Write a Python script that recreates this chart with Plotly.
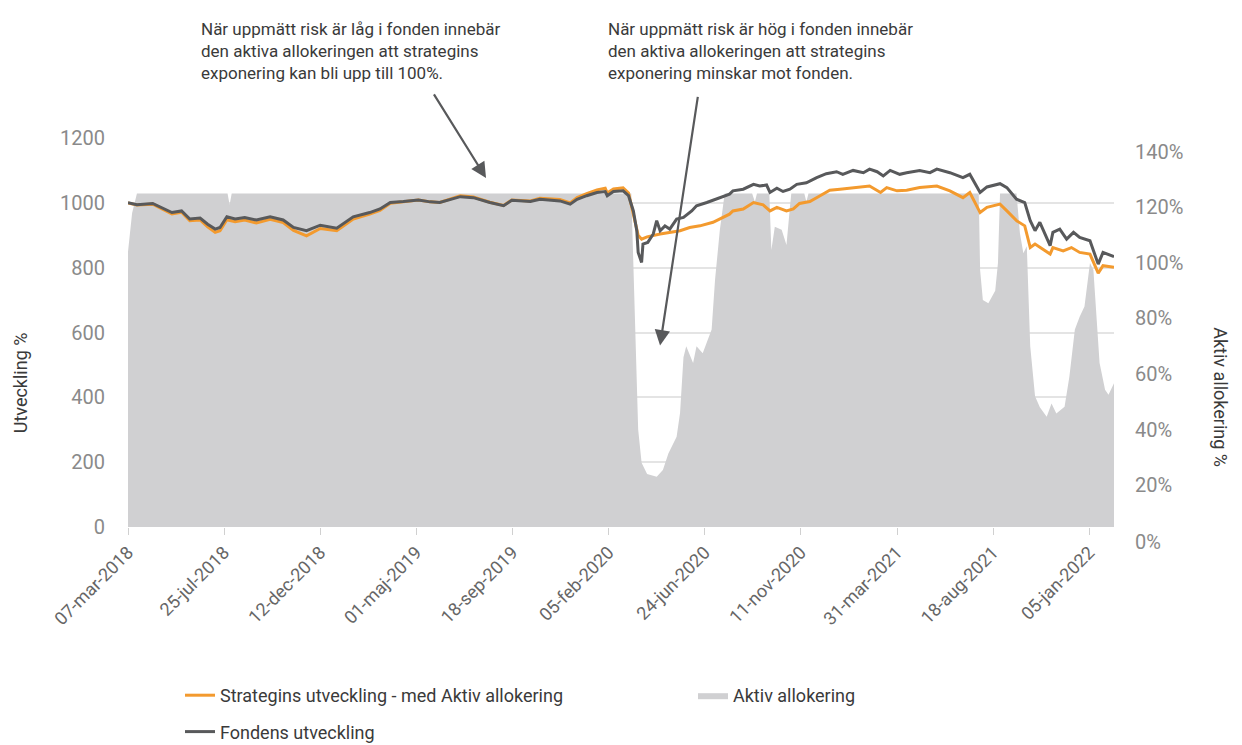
import plotly.graph_objects as go

# ---------------- data ----------------
fund_dates = [
    "2018-03-07", "2018-03-20", "2018-04-12", "2018-04-27", "2018-05-10", "2018-05-24",
    "2018-06-05", "2018-06-20", "2018-07-01", "2018-07-12", "2018-07-19", "2018-07-29",
    "2018-08-10", "2018-08-24", "2018-09-10", "2018-09-30", "2018-10-19", "2018-11-03",
    "2018-11-22", "2018-12-12", "2019-01-05", "2019-01-29", "2019-02-22", "2019-03-09",
    "2019-03-24", "2019-04-12", "2019-05-04", "2019-05-21", "2019-06-04", "2019-07-04",
    "2019-07-23", "2019-08-16", "2019-09-05", "2019-09-17", "2019-10-14", "2019-10-28",
    "2019-11-26", "2019-12-11", "2019-12-21", "2020-01-04", "2020-01-19", "2020-01-31",
    "2020-02-03", "2020-02-12", "2020-02-26", "2020-03-05", "2020-03-12", "2020-03-17",
    "2020-03-19", "2020-03-24", "2020-03-26", "2020-04-02", "2020-04-10", "2020-04-15",
    "2020-04-20", "2020-04-27", "2020-05-04", "2020-05-14", "2020-05-24", "2020-06-05",
    "2020-06-12", "2020-06-27", "2020-07-11", "2020-07-30", "2020-08-04", "2020-08-19",
    "2020-09-03", "2020-09-12", "2020-09-22", "2020-09-27", "2020-10-07", "2020-10-16",
    "2020-10-26", "2020-11-05", "2020-11-19", "2020-12-04", "2020-12-18", "2021-01-02",
    "2021-01-11", "2021-01-26", "2021-02-10", "2021-02-19", "2021-03-02", "2021-03-11",
    "2021-03-21", "2021-04-04", "2021-04-14", "2021-05-03", "2021-05-18", "2021-05-28",
    "2021-06-16", "2021-07-05", "2021-07-15", "2021-07-30", "2021-08-09", "2021-08-28",
    "2021-09-07", "2021-09-21", "2021-10-03", "2021-10-11", "2021-10-18", "2021-10-25",
    "2021-11-09", "2021-11-13", "2021-11-23", "2021-12-03", "2021-12-13", "2021-12-22",
    "2022-01-06", "2022-01-18", "2022-01-25", "2022-02-04", "2022-02-10",
]
fund_values = [
    1000, 994, 998, 984, 970, 975,
    950, 953, 934, 919, 924, 957,
    950, 955, 947, 957, 947, 924,
    914, 931, 922, 957, 970, 981,
    1001, 1004, 1009, 1003, 1001, 1019,
    1016, 1001, 991, 1008, 1004, 1011,
    1006, 996, 1011, 1022, 1032, 1035,
    1022, 1035, 1037, 1022, 975, 914,
    847, 816, 873, 878, 904, 945,
    914, 929, 919, 950, 955, 975,
    991, 1001, 1011, 1027, 1037, 1042,
    1057, 1052, 1055, 1032, 1045, 1035,
    1042, 1057, 1062, 1078, 1090, 1096,
    1088, 1100, 1093, 1104, 1096, 1083,
    1100, 1088, 1093, 1100, 1093, 1104,
    1093, 1078, 1088, 1032, 1049, 1059,
    1047, 1011, 1001, 945, 914, 940,
    868, 909, 919, 888, 909, 893,
    883, 811, 847, 840, 834,
]

strat_dates = [
    "2018-03-07", "2018-03-20", "2018-04-12", "2018-04-27", "2018-05-10", "2018-05-24",
    "2018-06-05", "2018-06-20", "2018-07-01", "2018-07-12", "2018-07-19", "2018-07-29",
    "2018-08-10", "2018-08-24", "2018-09-10", "2018-09-30", "2018-10-19", "2018-11-03",
    "2018-11-22", "2018-12-12", "2019-01-05", "2019-01-29", "2019-02-22", "2019-03-09",
    "2019-03-24", "2019-04-12", "2019-05-04", "2019-05-21", "2019-06-04", "2019-07-04",
    "2019-07-23", "2019-08-16", "2019-09-05", "2019-09-17", "2019-10-14", "2019-10-28",
    "2019-11-26", "2019-12-11", "2019-12-21", "2020-01-04", "2020-01-19", "2020-01-31",
    "2020-02-03", "2020-02-12", "2020-02-26", "2020-03-05", "2020-03-12", "2020-03-19",
    "2020-03-24", "2020-04-01", "2020-04-20", "2020-05-04", "2020-05-19", "2020-06-02",
    "2020-06-17", "2020-07-06", "2020-07-30", "2020-08-04", "2020-08-19", "2020-09-03",
    "2020-09-17", "2020-09-27", "2020-10-07", "2020-10-21", "2020-10-31", "2020-11-09",
    "2020-11-24", "2020-12-09", "2020-12-23", "2021-01-07", "2021-01-21", "2021-02-05",
    "2021-02-19", "2021-03-07", "2021-03-16", "2021-03-31", "2021-04-14", "2021-05-03",
    "2021-05-28", "2021-06-16", "2021-07-05", "2021-07-15", "2021-07-30", "2021-08-09",
    "2021-08-28", "2021-09-07", "2021-09-21", "2021-10-03", "2021-10-11", "2021-10-18",
    "2021-11-09", "2021-11-13", "2021-11-28", "2021-12-10", "2021-12-22", "2022-01-06",
    "2022-01-18", "2022-01-25", "2022-02-10",
]
strat_values = [
    1000, 993, 996, 981, 966, 971,
    945, 947, 926, 909, 914, 948,
    942, 947, 938, 949, 939, 915,
    898, 921, 914, 950, 965, 977,
    999, 1003, 1009, 1003, 1001, 1022,
    1018, 1002, 992, 1009, 1006, 1014,
    1010, 1000, 1016, 1028, 1040, 1045,
    1030, 1043, 1046, 1030, 960, 900,
    888, 895, 904, 909, 914, 924,
    929, 940, 965, 975, 981, 1001,
    994, 975, 986, 975, 981, 998,
    1004, 1022, 1039, 1042, 1045, 1047,
    1052, 1032, 1047, 1037, 1039, 1047,
    1052, 1037, 1016, 1032, 970, 986,
    996, 975, 945, 929, 862, 873,
    842, 862, 852, 862, 847, 842,
    783, 806, 801,
]

alloc_dates = [
    "2018-03-07", "2018-03-13", "2018-03-20", "2018-07-30", "2018-08-02", "2018-08-05",
    "2020-03-09", "2020-03-12", "2020-03-15", "2020-03-19", "2020-03-24", "2020-04-01",
    "2020-04-15", "2020-04-24", "2020-05-02", "2020-05-14", "2020-05-19", "2020-05-24",
    "2020-05-28", "2020-06-07", "2020-06-12", "2020-06-21", "2020-07-04", "2020-07-09",
    "2020-07-16", "2020-07-23", "2020-09-01", "2020-09-05", "2020-09-08", "2020-09-26",
    "2020-09-29", "2020-10-04", "2020-10-14", "2020-10-21", "2020-10-26", "2020-10-28",
    "2020-11-16", "2020-11-19", "2020-11-22", "2021-07-28", "2021-07-30", "2021-08-03",
    "2021-08-11", "2021-08-21", "2021-08-25", "2021-08-28", "2021-09-21", "2021-09-26",
    "2021-10-01", "2021-10-06", "2021-10-11", "2021-10-18", "2021-10-25", "2021-11-04",
    "2021-11-11", "2021-11-18", "2021-11-30", "2021-12-07", "2021-12-15", "2021-12-22",
    "2021-12-29", "2022-01-06", "2022-01-11", "2022-01-16", "2022-01-20", "2022-01-28",
    "2022-02-02", "2022-02-10",
]
alloc_values = [
    104, 118, 125, 125, 121, 125,
    125, 97.5, 76, 40, 28, 24,
    23, 25.4, 31.4, 37.4, 46, 66,
    70, 64, 70, 67.5, 76, 94,
    112, 125, 125, 122, 125, 125,
    104.7, 113, 112, 106.5, 120, 125,
    125, 122, 125, 125, 97.5, 86.7,
    85.5, 90, 100, 125, 125, 110.7,
    103.5, 106, 70, 52, 48, 44.6,
    49.4, 45.8, 48.2, 59, 76, 80.6,
    84.3, 100, 97.5, 80.6, 64, 54.3,
    52.5, 56.7,
]

tick_dates = ["2018-03-07", "2018-07-25", "2018-12-12", "2019-05-01", "2019-09-18",
              "2020-02-05", "2020-06-24", "2020-11-11", "2021-03-31", "2021-08-18",
              "2022-01-05"]
tick_labels = ["07-mar-2018", "25-jul-2018", "12-dec-2018", "01-maj-2019", "18-sep-2019",
               "05-feb-2020", "24-jun-2020", "11-nov-2020", "31-mar-2021", "18-aug-2021",
               "05-jan-2022"]

left_ticks = [0, 200, 400, 600, 800, 1000, 1200]
right_ticks = [20, 40, 60, 80, 100, 120, 140]
right_labels = ["20%", "40%", "60%", "80%", "100%", "120%", "140%"]

# ---------------- styles ----------------
FONT = "Roboto"
ORANGE = "#F39A2E"
DARK = "#58595B"
GREY_AREA = "#D0D0D2"
TXT = "#3A3A3A"
TICKTXT = "#8A8A8A"

# page body has an 8px margin, so the figure is 8px smaller than the window
W, H = 1234, 737

fig = go.Figure()

# area on the primary (right-hand, percent) axis so that the lines overlay it
fig.add_trace(go.Scatter(
    x=alloc_dates, y=alloc_values, name="Aktiv allokering", yaxis="y",
    mode="lines", line=dict(width=0, color=GREY_AREA), fill="tozeroy",
    fillcolor=GREY_AREA, legend="legend2", hoverinfo="skip",
))
fig.add_trace(go.Scatter(
    x=strat_dates, y=strat_values, name="Strategins utveckling - med Aktiv allokering",
    yaxis="y2", mode="lines", line=dict(width=3, color=ORANGE),
    legendgroup="a", legendrank=1,
))
fig.add_trace(go.Scatter(
    x=fund_dates, y=fund_values, name="Fondens utveckling",
    yaxis="y2", mode="lines", line=dict(width=3, color=DARK),
    legendgroup="b", legendrank=2,
))

fig.update_layout(
    width=W, height=H,
    margin=dict(l=120, r=128, t=130, b=218, autoexpand=False),
    paper_bgcolor="white", plot_bgcolor="white",
    font=dict(family=FONT, color=TXT, size=18),
    xaxis=dict(
        type="date", range=["2018-03-07", "2022-02-10"],
        tickmode="array", tickvals=tick_dates, ticktext=tick_labels,
        tickangle=-45, tickfont=dict(size=18, color="#666666"),
        ticks="outside", ticklen=7, tickcolor="#D0D0D0", tickwidth=1,
        showgrid=False, showline=False, zeroline=False, automargin=False,
    ),
    yaxis=dict(
        side="right", range=[4.9, 145.0],
        tickmode="array", tickvals=right_ticks, ticktext=right_labels,
        tickfont=dict(size=20, color=TICKTXT),
        showgrid=False, zeroline=False, showline=False, ticklabelstandoff=20,
        automargin=False,
    ),
    yaxis2=dict(
        overlaying="y", side="left",
        range=[0, 1200], tickmode="array", tickvals=left_ticks,
        tickfont=dict(size=20, color=TICKTXT),
        showgrid=True, gridcolor="#E4E4E4", gridwidth=1.5,
        zeroline=False, showline=False, ticklabelstandoff=22, automargin=False,
    ),
    legend=dict(
        orientation="v", x=(172 - 120) / 986, y=1 - 669 / H, yref="container",
        xanchor="left", yanchor="top",
        font=dict(size=18, color=TXT), tracegroupgap=10, bgcolor="rgba(0,0,0,0)",
    ),
    legend2=dict(
        orientation="v", x=(685 - 120) / 986, y=1 - 669 / H, yref="container",
        xanchor="left", yanchor="top",
        font=dict(size=18, color=TXT), bgcolor="rgba(0,0,0,0)",
    ),
    showlegend=True,
)

annotations = [
    dict(text="När uppmätt risk är låg i fonden innebär<br>den aktiva allokeringen att strategins<br>exponering kan bli upp till 100%.",
         xref="paper", yref="paper", x=0.072, y=1.31, xanchor="left", yanchor="top",
         align="left", showarrow=False, font=dict(size=17, color=TXT)),
    dict(text="När uppmätt risk är hög i fonden innebär<br>den aktiva allokeringen att strategins<br>exponering minskar mot fonden.",
         xref="paper", yref="paper", x=0.4848, y=1.31, xanchor="left", yanchor="top",
         align="left", showarrow=False, font=dict(size=17, color=TXT)),
    dict(text="", xref="paper", yref="paper", x=0.3631, y=0.8974, ax=-53, ay=-85,
         showarrow=True, arrowhead=2, arrowsize=1.4, arrowwidth=2.2, arrowcolor=DARK),
    dict(text="", xref="paper", yref="paper", x=0.5396, y=0.4667, ax=38, ay=-250,
         showarrow=True, arrowhead=2, arrowsize=1.4, arrowwidth=2.2, arrowcolor=DARK),
    dict(text="Utveckling %", xref="paper", yref="paper", x=-0.122, y=0.37,
         textangle=-90, showarrow=False, font=dict(size=18, color=TXT)),
    dict(text="Aktiv allokering %", xref="paper", yref="paper", x=1.1207, y=0.335,
         textangle=90, showarrow=False, font=dict(size=18, color=TXT)),
    dict(text="0%", xref="paper", yref="paper", x=1, y=-15 / 390, xanchor="left",
         yanchor="middle", xshift=19, showarrow=False, font=dict(size=20, color=TICKTXT)),
]
fig.update_layout(annotations=annotations)

fig.write_html("out.html")
